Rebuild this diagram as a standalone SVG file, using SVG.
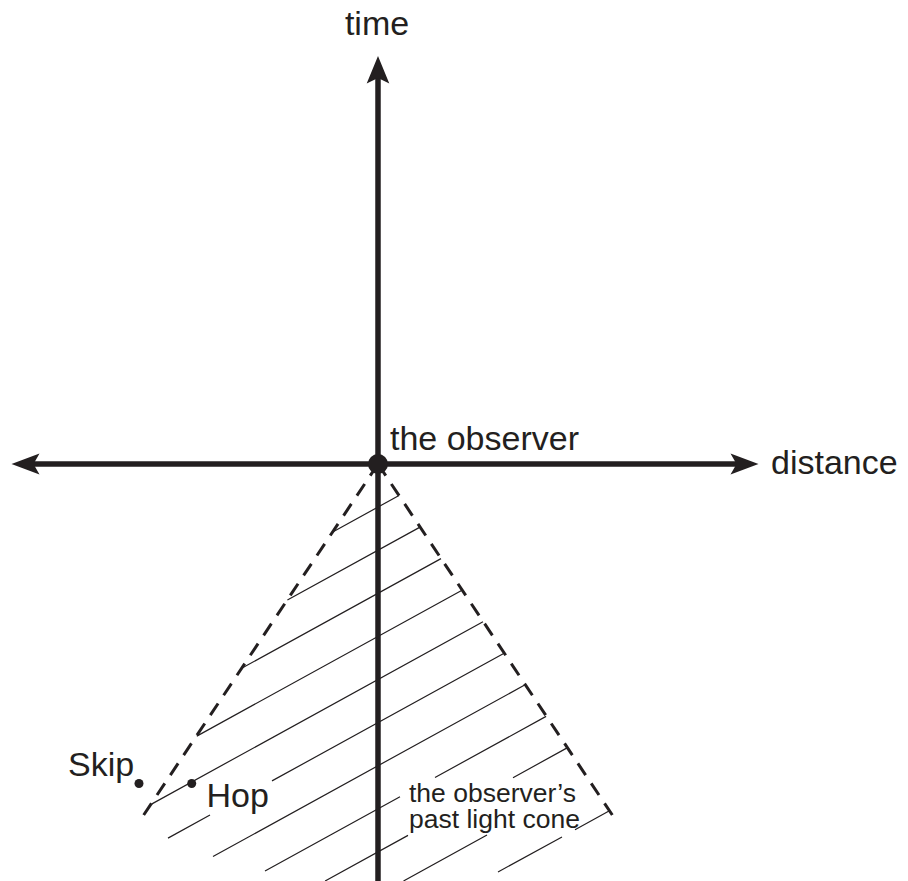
<svg xmlns="http://www.w3.org/2000/svg" width="908" height="881" viewBox="0 0 908 881">
<style>
  .axis { stroke:#231f20; stroke-width:5.5; fill:none; }
  .head { fill:#231f20; }
  .cone { stroke:#231f20; stroke-width:3; fill:none; stroke-dasharray:14 10; }
  .hatch { stroke:#231f20; stroke-width:1.2; fill:none; stroke-linecap:butt; }
  .lbl { font-family:"Liberation Sans", Arial, Helvetica, sans-serif; fill:#231f20; font-size:34px; }
  .small { font-size:26.5px; }
  .dot { fill:#231f20; }
</style>
<rect width="908" height="881" fill="#ffffff"/>

<g id="hatching">
  <path class="hatch" d="
    M332.7,532 L399,495.5
    M287.4,600 L420,527.1
    M242.1,668 L441,558.6
    M196.8,736.1 L462,590.2
    M151.5,804.1 L483,621.7
    M168,838.1 L210,815 M272,780.9 L504.1,653.3
    M213,856.5 L525.1,684.8
    M265,871 L400,796.7 M435,777.5 L546.1,716.4
    M325.1,881 L408,835.4 M513,777.7 L567.1,747.9
    M403.5,881 L487,835
    M498,872 L562,837 M575,829.8 L609,811"/>
</g>

<g id="connectors">
  <line id="time-axis" class="axis" x1="378" y1="881" x2="378" y2="76"/>
  <path class="head" d="M378,56 L389.3,83.5 L378,78 L366.7,83.5 Z"/>
  <line id="distance-axis" class="axis" x1="33" y1="464" x2="737" y2="464"/>
  <path class="head" d="M11.5,464 L39.5,453.5 L33.5,464 L39.5,474.5 Z"/>
  <path class="head" d="M758.5,464 L730.5,453.5 L736.5,464 L730.5,474.5 Z"/>
  <line id="cone-left" class="cone" x1="378" y1="464" x2="139" y2="822"/>
  <line id="cone-right" class="cone" x1="378" y1="464" x2="617" y2="822"/>
</g>

<g id="observer">
  <circle class="dot" cx="378" cy="464" r="10"/>
  <text class="lbl" x="390" y="450">the observer</text>
</g>

<g id="time-label">
  <text class="lbl" x="377" y="35" text-anchor="middle">time</text>
</g>

<g id="distance-label">
  <text class="lbl" x="771" y="474">distance</text>
</g>

<g id="skip">
  <circle class="dot" cx="139" cy="783.5" r="4.5"/>
  <text class="lbl" x="68" y="776">Skip</text>
</g>

<g id="hop">
  <circle class="dot" cx="191.7" cy="783.5" r="4.5"/>
  <text class="lbl" x="206.5" y="806.5">Hop</text>
</g>

<g id="past-light-cone-label">
  <text class="lbl small" x="409" y="801.5">the observer’s</text>
  <text class="lbl small" x="409" y="828">past light cone</text>
</g>
</svg>
